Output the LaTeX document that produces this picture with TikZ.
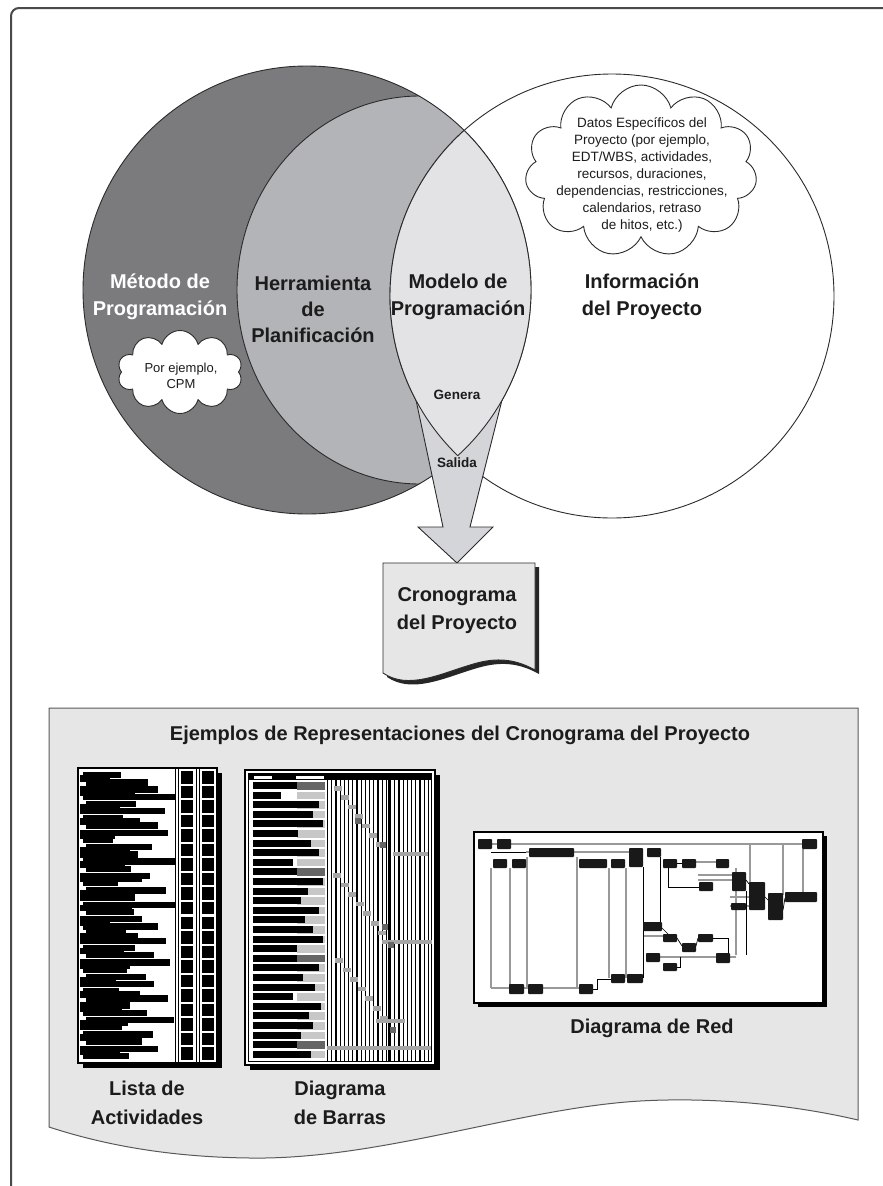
\documentclass[tikz,border=0pt]{standalone}
\usepackage{fontspec}
\setmainfont{Liberation Sans}
\usetikzlibrary{shapes.symbols}
\definecolor{darkg}{HTML}{7B7B7D}
\definecolor{midg}{HTML}{B3B4B7}
\definecolor{lensg}{HTML}{E3E3E5}
\definecolor{arrowg}{HTML}{D4D5D8}
\definecolor{docg}{HTML}{E6E6E6}
\definecolor{lineg}{HTML}{2B2B2B}
\definecolor{frameg}{HTML}{4A4A4A}
\definecolor{txt}{HTML}{1C1C1C}
\begin{document}
\begin{tikzpicture}[x=1pt,y=-1pt,
  circ/.style={draw=lineg, line width=0.9pt},
  lbl/.style={font=\fontsize{20}{27}\selectfont\bfseries, align=center, inner sep=0pt, text=txt},
  sml/.style={font=\fontsize{13.5}{16}\selectfont\bfseries, inner sep=0pt, text=txt},
  cloudtxt/.style={font=\fontsize{13.5}{17}\selectfont, align=center, inner sep=0pt, text=txt},
  puff/.style={cloud, draw=lineg, fill=white, line width=0.9pt, inner sep=0pt},
  nd/.style={fill=black!90, rounded corners=0.8pt},
  gl/.style={draw=black!40, line width=1.1pt},
  bl/.style={draw=black, line width=0.7pt}]
\useasboundingbox (0,0) rectangle (883,1186);
\fill[white] (0,0) rectangle (883,1186);
\clip (0,0) rectangle (883,1186);
\draw[frameg, line width=2pt, rounded corners=8pt] (11,1200) -- (11,8) -- (900,8);

% ---------- circles ----------
\fill[white] (612,296) circle[radius=222pt];
\fill[darkg] (307,290) circle[radius=224pt];
\begin{scope}
  \clip (307,290) circle[radius=224pt];
  \fill[midg] (420,290) ellipse[x radius=183pt, y radius=194pt];
  \draw[circ] (420,290) ellipse[x radius=183pt, y radius=194pt];
\end{scope}
\draw[circ] (612,296) circle[radius=222pt];
\draw[circ] (307,290) circle[radius=224pt];

% ---------- output arrow ----------
\filldraw[fill=arrowg, draw=lineg, line width=0.9pt, line join=miter]
  (416,400) -- (443,527) -- (418,527) -- (457,563) -- (493,527) -- (470,527) -- (502,400);

% ---------- lens (Modelo) ----------
\begin{scope}
  \clip (307,290) circle[radius=224pt];
  \fill[lensg] (612,296) circle[radius=222pt];
  \draw[circ] (612,296) circle[radius=222pt];
\end{scope}
\begin{scope}
  \clip (612,296) circle[radius=222pt];
  \draw[circ] (307,290) circle[radius=224pt];
\end{scope}

% ---------- clouds ----------
\node[puff, cloud puffs=11, aspect=1.35, minimum width=232pt, minimum height=172pt] (datacloud) at (641,171) {};
\node[cloudtxt] (datatext) at (642,175) {Datos Específicos del\\Proyecto (por ejemplo,\\EDT/WBS, actividades,\\recursos, duraciones,\\dependencias, restricciones,\\calendarios, retraso\\de hitos, etc.)};
\node[puff, cloud puffs=10, aspect=1.5, minimum width=125pt, minimum height=83pt] (cpmcloud) at (180,372) {};
\node[cloudtxt, font=\fontsize{13}{16}\selectfont] (cpmtext) at (181,376) {Por ejemplo,\\CPM};

% ---------- labels ----------
\node[lbl, text=white] (metodo) at (160,297) {Método de\\Programación};
\node[lbl, font=\fontsize{20}{26}\selectfont\bfseries] (herr) at (313,309) {Herramienta\\de\\Planificación};
\node[lbl] (modelo) at (458,297) {Modelo de\\Programación};
\node[lbl] (info) at (642,297) {Información\\del Proyecto};
\node[sml] (genera) at (457,395) {Genera};
\node[sml] (salida) at (457,463) {Salida};

% ---------- schedule document ----------
\fill[black!85, shift={(4,4)}] (383,563) -- (535,563) -- (535,670) .. controls (512,657) and (492,658) .. (470,665) .. controls (440,674) and (408,690) .. (383,673) -- cycle;
\filldraw[fill=docg, draw=lineg, line width=0.9pt] (383,563) -- (535,563) -- (535,670) .. controls (512,657) and (492,658) .. (470,665) .. controls (440,674) and (408,690) .. (383,673) -- cycle;
\node[lbl, font=\fontsize{20}{28}\selectfont\bfseries] (crono) at (457,611) {Cronograma\\del Proyecto};

% ---------- examples document ----------
\filldraw[fill=docg, draw=black!65, line width=1pt] (49,708) -- (858,708) -- (858,1120) .. controls (790,1104) and (710,1097) .. (640,1101) .. controls (520,1108) and (380,1160) .. (250,1158) .. controls (160,1157) and (95,1142) .. (49,1127) -- cycle;
\node[lbl] (ejtitle) at (460,735) {Ejemplos de Representaciones del Cronograma del Proyecto};

% ---- activity list thumbnail ----
\fill[black] (83,773) rectangle (222,1068);
\filldraw[fill=white, draw=black, line width=1.5pt] (78,768) rectangle (217,1063);
\foreach \xx in {175,178,196,199} \draw[line width=0.9pt] (\xx,768) -- (\xx,1063);
\foreach \i in {0,...,19} {
  \fill (181,771+\i*14.55) rectangle (193,771+\i*14.55+12.5);
  \fill (202,771+\i*14.55) rectangle (214,771+\i*14.55+12.5);
}
\foreach \w [count=\i] in {38,62,78,92,50,85,40,72,88,30,66,58,92,45,70,35,80,55,92,48,62,75,40,86,52,68,90,44,60,74,36,82,50,64,88,42,70,56,78,46} {
  \pgfmathsetmacro\yy{772+(\i-1)*7.2}
  \pgfmathsetmacro\xa{80+mod(\i,3)*3}
  \fill (\xa,\yy) rectangle (\xa+\w,\yy+6.3);
}
\foreach \w [count=\i] in {30,55,40,60,35,50,45,62,38,52,30,58,44,50,36,60,42,48,55,40} {
  \pgfmathsetmacro\yy{775+(\i-1)*14.4}
  \fill (80,\yy) rectangle (80+\w,\yy+6.5);
}

% ---- bar chart thumbnail ----
\fill[black] (250,775) rectangle (440,1070);
\filldraw[fill=white, draw=black, line width=1.8pt] (245,770) rectangle (435,1065);
\draw[line width=0.8pt] (248.5,773.5) rectangle (431.5,1061.5);
\fill (249,774) rectangle (431,780);
\fill[white] (254,775.5) rectangle (272,778.5);
\fill[white] (296,775.5) rectangle (324,778.5);
\foreach \w [count=\i] in {50,28,66,60,70,45,58,66,40,62,70,55,48,66,52,60,70,44,58,66,50,62,40,68,56,60,48,66,58} {
  \pgfmathsetmacro\yy{782+(\i-1)*9.6}
  \fill[black!22] (297,\yy) rectangle (325,\yy+7.5);
  \fill (253,\yy) rectangle (253+\w,\yy+7);
}
\foreach \yy in {782,868.4,954.8,1041.2} \fill[black!60] (297,\yy) rectangle (325,\yy+7.5);
\foreach \k in {0,...,24} \draw[line width=1.2pt] (327.5+\k*4.2,780) -- (327.5+\k*4.2,1061);
\draw[line width=1.8pt] (389,780) -- (389,1061);
\foreach \k in {0,...,6} {
  \fill[black!35] (334+\k*7,786+\k*9.4) rectangle (342+\k*7,790.5+\k*9.4);
  \fill[black!35] (333+\k*7.5,873+\k*9.6) rectangle (341+\k*7.5,877.5+\k*9.6);
  \fill[black!35] (335+\k*7.5,958+\k*9.6) rectangle (343+\k*7.5,962.5+\k*9.6);
}
\fill[black!35] (393,852) rectangle (428,856);
\fill[black!35] (382,940) rectangle (432,944);
\fill[black!35] (376,1019) rectangle (405,1023);
\fill[black!35] (327,1046) rectangle (431,1050);
\foreach \px/\py in {355/818,380/842,382/924,388/942,390/1027} \fill[black!60] (\px,\py) rectangle (\px+6,\py+6);

% ---- network diagram thumbnail ----
\fill[black] (478,836) rectangle (827,1007);
\filldraw[fill=white, draw=black, line width=1.5pt] (474,832) rectangle (823,1003);
\draw[gl] (485,844) -- (805,844);
\draw[bl] (491,852) -- (629,852);
\foreach \xx/\ya/\yb in {491/868/988, 510/868/988, 527/857/988, 577/857/988, 609/868/978, 626/868/978, 736/868/955, 750/844/884, 783/844/895, 803/849/893}
  \draw[gl] (\xx,\ya) -- (\xx,\yb);
\draw[gl] (491,988) -- (579,988);
\draw[gl] (698,875) -- (732,875);
\draw[gl] (698,880) -- (732,880);
\draw[gl] (730,897) -- (749,897);
\draw[gl] (730,906) -- (749,906);
\draw[gl] (696,862) -- (716,862);
\draw[gl] (643,936) -- (663,936);
\draw[gl] (660,957) -- (736,957);
\draw[gl] (526,852) -- (643,852);
\draw[bl] (593,989) -- (597,989) -- (597,979) -- (611,979);
\draw[bl] (643,867) -- (643,978);
\draw[bl] (660,857) -- (660,925);
\draw[bl] (668,868) -- (668,887) -- (699,887);
\draw[bl] (677,863) -- (682,863);
\draw[bl] (746,891) -- (746,955);
\draw[bl] (662,928) -- (668,934);
\draw[bl] (677,938) -- (682,946);
\draw[bl] (696,946) -- (698,938);
\draw[bl] (713,938) -- (728,938) -- (728,953);
\draw[bl] (677,967) -- (680,967) -- (680,957);
\draw[bl] (746,880) -- (749,884);
\draw[bl] (765,897) -- (768,900);
\draw[bl] (783,910) -- (785,898);
\foreach \xa/\ya/\xb/\yb in {478/839/492/849, 497/839/511/849, 802/839/817/849, 529/848/574/857, 493/859/507/868, 512/859/526/868, 579/859/607/868, 611/859/625/868, 629/848/643/867, 647/848/661/857, 663/859/677/868, 682/859/696/868, 716/859/729/868, 699/882/713/891, 732/872/746/891, 749/882/765/910, 785/892/817/902, 768/893/783/920, 731/903/746/910, 643/922/662/931, 663/934/677/942, 698/934/713/942, 682/943/696/952, 646/953/660/962, 663/963/677/971, 716/953/730/963, 509/984/524/994, 528/984/543/994, 579/984/593/994, 611/974/625/983, 627/974/643/983}
  \fill[nd] (\xa,\ya) rectangle (\xb,\yb);

% ---- thumbnail captions ----
\node[lbl, font=\fontsize{20}{29}\selectfont\bfseries] (listcap) at (147,1103) {Lista de\\Actividades};
\node[lbl, font=\fontsize{20}{29}\selectfont\bfseries] (barcap) at (340,1103) {Diagrama\\de Barras};
\node[lbl] (redcap) at (652,1028) {Diagrama de Red};
\end{tikzpicture}
\end{document}
